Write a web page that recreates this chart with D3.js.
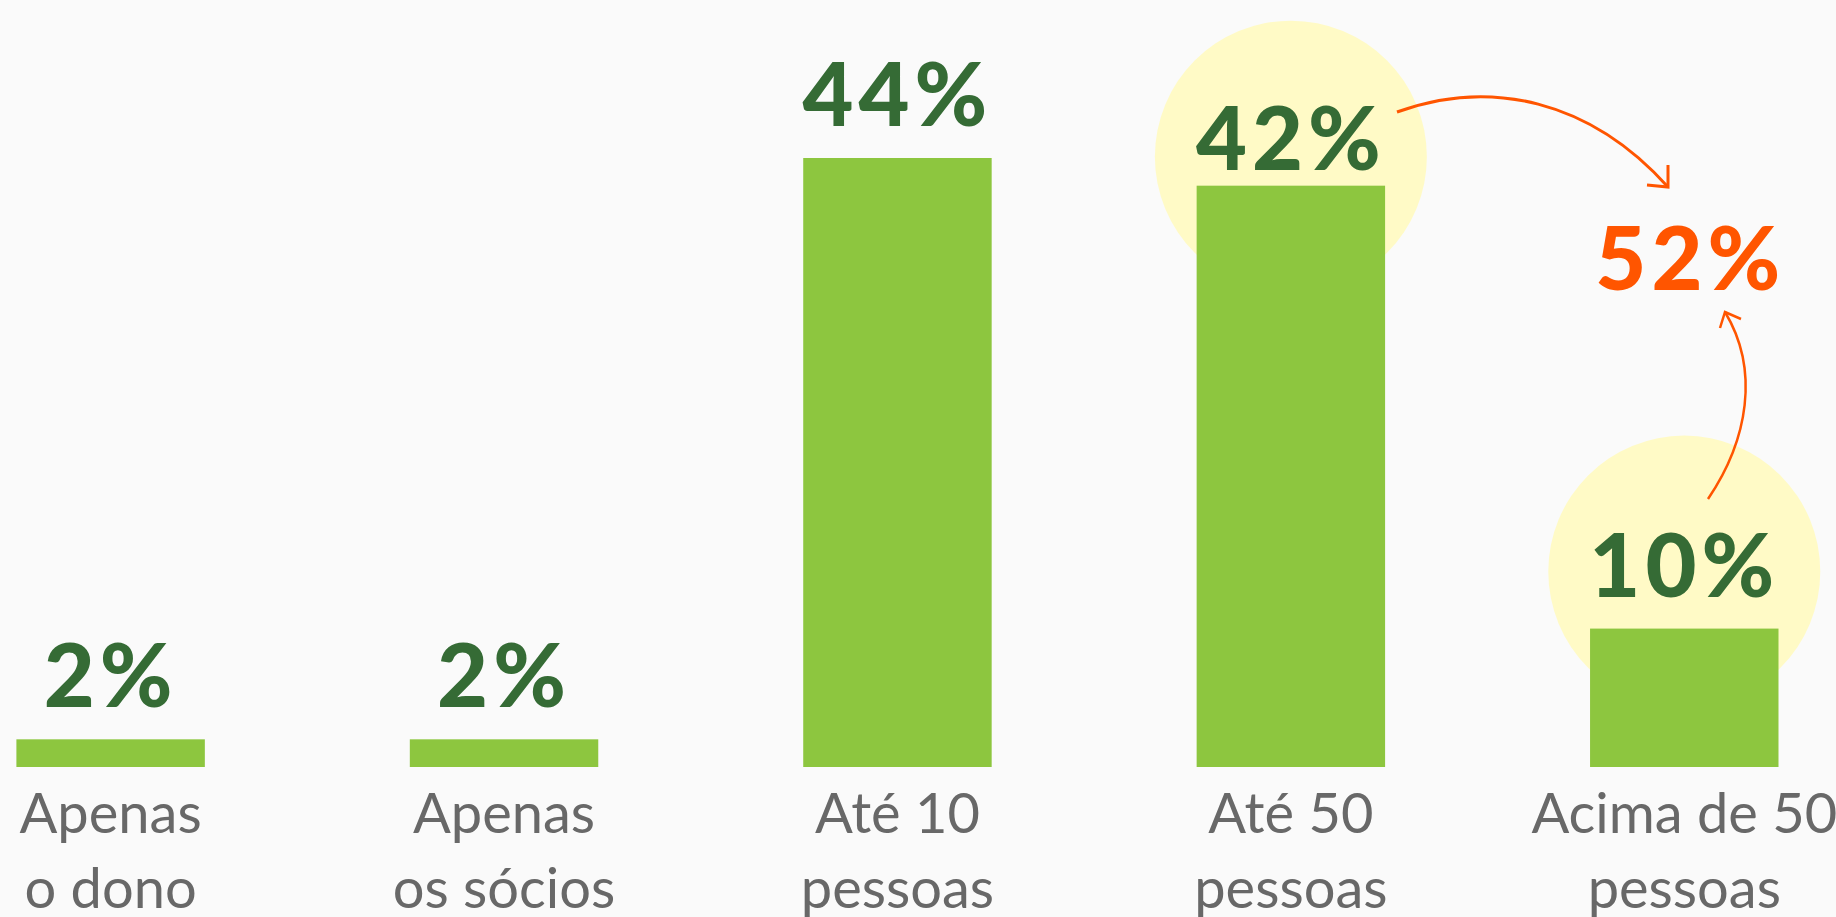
<!DOCTYPE html>
<html>
<head>
<meta charset="utf-8">
<script src="https://cdn.jsdelivr.net/npm/d3@7"></script>
<style>
  html, body { margin: 0; padding: 0; background: #fafafa; }
  svg { display: block; }
</style>
</head>
<body>
<svg id="chart" width="1836" height="917"></svg>
<script>
// ---- data ----
const categoryLine1 = ["Apenas", "Apenas", "Até 10", "Até 50", "Acima de 50"];
const categoryLine2 = ["o dono", "os sócios", "pessoas", "pessoas", "pessoas"];
const values = [2, 2, 44, 42, 10];
const valueLabels = ["2%", "2%", "44%", "42%", "10%"];
const highlighted = [3, 4];          // indices of circled bars
const combinedLabel = "52%";         // 42% + 10%

// ---- layout ----
const W = 1836, H = 917;
const svg = d3.select("#chart");
svg.append("rect").attr("width", W).attr("height", H).attr("fill", "#fafafa");

const x = d3.scaleBand()
  .domain(d3.range(values.length))
  .range([16.4, 1778.5])
  .paddingInner(0.521)
  .paddingOuter(0);

const y = d3.scaleLinear().domain([0, 44]).range([767, 158]);

const GREEN = "#8dc63f", DARK = "#356b35", ORANGE = "#ff5500", YELLOW = "#fffac6", GREY = "#686868";

// highlight circles (behind bars)
const circleDy = { 3: -29, 4: -57 };
svg.append("g").selectAll("circle")
  .data(highlighted)
  .join("circle")
  .attr("cx", i => x(i) + x.bandwidth() / 2)
  .attr("cy", i => y(values[i]) + circleDy[i])
  .attr("r", 136)
  .attr("fill", YELLOW);

// bars
svg.append("g").selectAll("rect")
  .data(values)
  .join("rect")
  .attr("x", (d, i) => x(i))
  .attr("y", d => y(d))
  .attr("width", x.bandwidth())
  .attr("height", d => y(0) - y(d))
  .attr("fill", GREEN);

// value labels
const labelGap = { 3: 16 };
svg.append("g").selectAll("text")
  .data(values)
  .join("text")
  .attr("x", (d, i) => x(i) + x.bandwidth() / 2)
  .attr("y", (d, i) => y(d) - (labelGap[i] !== undefined ? labelGap[i] : 32))
  .attr("text-anchor", "middle")
  .attr("font-family", "Lato, 'Open Sans', sans-serif")
  .attr("font-weight", 900)
  .attr("font-size", 88)
  .attr("letter-spacing", 5)
  .attr("fill", DARK)
  .text((d, i) => valueLabels[i]);

// category labels
const cat = svg.append("g")
  .attr("font-family", "Lato, 'Open Sans', sans-serif")
  .attr("font-weight", 400)
  .attr("font-size", 56)
  .attr("fill", GREY)
  .attr("text-anchor", "middle");
cat.selectAll("text.l1")
  .data(categoryLine1)
  .join("text")
  .attr("class", "l1")
  .attr("x", (d, i) => x(i) + x.bandwidth() / 2)
  .attr("y", y(0) + 66)
  .text(d => d);
cat.selectAll("text.l2")
  .data(categoryLine2)
  .join("text")
  .attr("class", "l2")
  .attr("x", (d, i) => x(i) + x.bandwidth() / 2)
  .attr("y", y(0) + 141)
  .text(d => d);

// combined label
const cx4 = x(4) + x.bandwidth() / 2;
svg.append("text")
  .attr("x", cx4 + 6)
  .attr("y", 290)
  .attr("text-anchor", "middle")
  .attr("font-family", "Lato, 'Open Sans', sans-serif")
  .attr("font-weight", 900)
  .attr("font-size", 88)
  .attr("letter-spacing", 5)
  .attr("fill", ORANGE)
  .text(combinedLabel);

// arrows
const arrows = svg.append("g")
  .attr("fill", "none")
  .attr("stroke", ORANGE)
  .attr("stroke-width", 3)
  .attr("stroke-linecap", "butt");

const p1 = d3.path();
p1.moveTo(1397, 112);
p1.bezierCurveTo(1490, 78, 1590, 100, 1668, 187);
arrows.append("path").attr("d", p1.toString());
const h1 = d3.path();
h1.moveTo(1668, 165); h1.lineTo(1668, 187); h1.lineTo(1647, 185);
arrows.append("path").attr("d", h1.toString());

const p2 = d3.path();
p2.moveTo(1708, 499);
p2.bezierCurveTo(1748, 440, 1760, 370, 1725, 312);
arrows.append("path").attr("d", p2.toString()).attr("stroke-width", 2.5);
const h2 = d3.path();
h2.moveTo(1720, 328); h2.lineTo(1725, 312); h2.lineTo(1741, 319);
arrows.append("path").attr("d", h2.toString()).attr("stroke-width", 2.5);
</script>
</body>
</html>
